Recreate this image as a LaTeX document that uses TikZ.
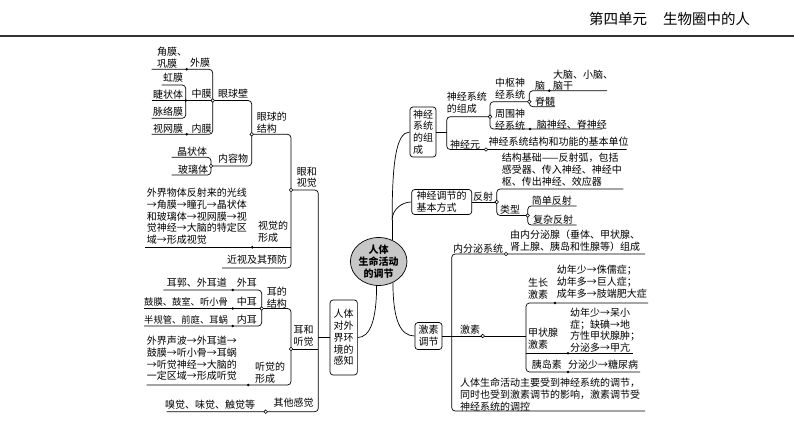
\documentclass[tikz,border=0pt]{standalone}
\usepackage{fontspec}
\setmainfont{Noto Sans CJK SC}
\usetikzlibrary{shapes.geometric}
\begin{document}
\begin{tikzpicture}[x=1pt,y=-1pt,
  ln/.style={line width=0.7pt},
  br/.style={line width=0.7pt, rounded corners=3.5pt},
  tx/.style={inner sep=0pt, anchor=north west, align=left, font=\fontsize{10}{11.7}\selectfont},
  jc/.style={circle, draw, fill=white, line width=0.6pt, inner sep=0pt, minimum size=3.6pt},
  jd/.style={circle, fill=black, inner sep=0pt, minimum size=2.8pt},
  bx/.style={draw, line width=0.7pt, rounded corners=3pt, inner sep=0pt, align=left, font=\fontsize{10}{11.7}\selectfont}
]
\useasboundingbox (0,0) rectangle (794,447);
% header
\node[inner sep=0pt, anchor=north west, font=\fontsize{14.5}{16}\selectfont] (hd) at (589,12) {第四单元\hspace{16pt}生物圈中的人};
\draw[line width=1.5pt, black!80] (0,36) -- (794,36);

% central and boxes
\node[draw, ellipse, fill=black!22, line width=0.7pt, inner sep=0pt, minimum width=53pt, minimum height=48pt, align=center, font=\bfseries\fontsize{10}{12}\selectfont] (c) at (378.7,261.5) {人体\\生命活动\\的调节};
\node[bx, minimum width=26pt, minimum height=50pt] (n1) at (423,132) {神经\\系统\\的组\\成};
\node[bx, minimum width=60pt, minimum height=25pt] (n2) at (441.7,202) {神经调节的\\基本方式};
\node[bx, minimum width=27pt, minimum height=27pt] (hx) at (428.5,336) {激素\\调节};
\node[bx, minimum width=27.3pt, minimum height=75pt] (hz) at (343.7,337.5) {人体\\对外\\界环\\境的\\感知};

% connectors from centre
\draw[ln] (c.58) -- ++(0,-20) coordinate (cu);
\draw[ln] (cu) .. controls +(0,-55) and +(-14,0) .. (n1.west);
\draw[ln] (cu) .. controls +(0,-10) and +(-10,0) .. (n2.west);
\draw[ln] (c.-56) .. controls +(0,38) and +(-14,0) .. (hx.west);
\draw[ln] (c.-95) .. controls +(0,35) and +(12,0) .. (hz.east);

% right: nervous system
\draw[ln] (n1.east) -- (446.7,132);
\draw[br] (490,116.7) -- (446.7,116.7) -- (446.7,149.5) -- (626.7,149.5);
\draw[br] (529.3,101.7) -- (490,101.7) -- (490,129) -- (602,129);
\draw[br] (607,90.7) -- (529.3,90.7) -- (529.3,106.7) -- (555,106.7);
\draw[ln] (n2.east) -- (496.7,202);
\draw[br] (623.3,189) -- (496.7,189) -- (496.7,215.5) -- (527.7,215.5);
\draw[br] (576.7,206) -- (527.7,206) -- (527.7,225) -- (576.7,225);
% right: hormones
\draw[br] (645,254) -- (451.7,254) -- (451.7,411) -- (645,411);
\draw[ln] (hx.east) -- (526,336);
\draw[br] (648,303) -- (526,303) -- (526,372) -- (640,372);
\draw[ln] (526,353.3) -- (633,353.3);

% left: senses
\draw[ln] (hz.west) -- (318.3,337.5);
\draw[br] (291,190) -- (318.3,190) -- (318.3,411.7) -- (166.7,411.7);
\draw[ln] (291,349) -- (318.3,349);
\draw[br] (251.7,134.3) -- (291,134.3) -- (291,268) -- (222,268);
\draw[ln] (145,247.3) -- (291,247.3);
\draw[br] (212.7,100.5) -- (251.7,100.5) -- (251.7,166) -- (211,166);
\draw[br] (151.7,69.3) -- (212.7,69.3) -- (212.7,134.3) -- (151.7,134.3);
\draw[ln] (151.7,100.5) -- (212.7,100.5);
\draw[br] (161.7,85) -- (185.7,85) -- (185.7,118.3) -- (151.7,118.3);
\draw[br] (171.7,157.3) -- (211,157.3) -- (211,175) -- (171.7,175);
\draw[br] (163.3,290) -- (261.7,290) -- (261.7,326) -- (144,326);
\draw[ln] (144,308.5) -- (261.7,308.5);
\draw[br] (261.7,308.5) -- (291,308.5) -- (291,385) -- (146.7,385);

% junction circles
\foreach \p [count=\i] in {(291,190),(291,349),(265.7,411.7),(251.7,134.3),(212.7,100.5),(211,166),(261.7,308.5),(490,116.7),(486,149.5),(529.3,101.7),(496.7,202),(527.7,215.5),(506,254),(482.7,336)}
  \node[jc] (o\i) at \p {};
\foreach \p [count=\i] in {(186.7,69.3),(185.7,100.5),(186.7,134.3),(252.3,247.3),(232.7,290),(232.7,308.5),(232.7,326),(248.3,385),(549.3,90.7),(530,129),(555,303),(568,353.3),(568,372)}
  \node[jd] (d\i) at \p {};

% left texts
\node[tx] (a1) at (157,47) {角膜、\\巩膜};
\node[tx] (a2) at (190,58) {外膜};
\node[tx] (a3) at (163,73) {虹膜};
\node[tx] (a4) at (153,90) {睫状体};
\node[tx] (a5) at (191.5,89) {中膜};
\node[tx] (a6) at (153,107) {脉络膜};
\node[tx] (a7) at (153,124) {视网膜};
\node[tx] (a8) at (191.5,124) {内膜};
\node[tx] (a9) at (218,89) {眼球壁};
\node[tx] (a10) at (256.7,111.7) {眼球的\\结构};
\node[tx] (a11) at (177,146.5) {晶状体};
\node[tx] (a12) at (178,164.5) {玻璃体};
\node[tx] (a13) at (218,154) {内容物};
\node[tx] (a14) at (146.7,188) {外界物体反射来的光线\\→角膜→瞳孔→晶状体\\和玻璃体→视网膜→视\\觉神经→大脑的特定区\\域→形成视觉};
\node[tx, font=\fontsize{10}{12}\selectfont] (a15) at (258,221) {视觉的\\形成};
\node[tx] (a16) at (227,255) {近视及其预防};
\node[tx] (a17) at (296.7,166.7) {眼和\\视觉};
\node[tx] (b1) at (166.7,278) {耳郭、外耳道};
\node[tx] (b2) at (236.7,278) {外耳};
\node[tx, font=\fontsize{9.3}{11}\selectfont] (b3) at (144,297) {鼓膜、鼓室、听小骨};
\node[tx] (b4) at (236.7,296.7) {中耳};
\node[tx, font=\fontsize{9.3}{11}\selectfont] (b5) at (144,315.3) {半规管、前庭、耳蜗};
\node[tx] (b6) at (236.7,315) {内耳};
\node[tx] (b7) at (266.7,286.7) {耳的\\结构};
\node[tx] (b8) at (146.7,336) {外界声波→外耳道→\\鼓膜→听小骨→耳蜗\\→听觉神经→大脑的\\一定区域→形成听觉};
\node[tx] (b9) at (255,362) {听觉的\\形成};
\node[tx] (b10) at (293.3,325) {耳和\\听觉};
\node[tx] (b11) at (165,400) {嗅觉、味觉、触觉等};
\node[tx] (b12) at (273.3,398) {其他感觉};

% right texts
\node[tx] (r1) at (446.7,91.7) {神经系统\\的组成};
\node[tx] (r2) at (495,78) {中枢神\\经系统};
\node[tx] (r3) at (535,81) {脑};
\node[tx] (r4) at (553,69.5) {大脑、小脑、\\脑干};
\node[tx] (r5) at (535,96.5) {脊髓};
\node[tx] (r6) at (495,109) {周围神\\经系统};
\node[tx] (r7) at (536.7,119.5) {脑神经、脊神经};
\node[tx] (r8) at (450,139.5) {神经元};
\node[tx] (r9) at (488.3,137) {神经系统结构和功能的基本单位};
\node[tx, font=\fontsize{10}{11.8}\selectfont] (r10) at (501.7,153) {结构基础——反射弧，包括\\感受器、传入神经、神经中\\枢、传出神经、效应器};
\node[tx] (r11) at (473,191.5) {反射};
\node[tx] (r12) at (500,205) {类型};
\node[tx] (r13) at (531.7,196) {简单反射};
\node[tx] (r14) at (533,215) {复杂反射};
\node[tx] (r15) at (453,244) {内分泌系统};
\node[tx] (r16) at (510,230) {由内分泌腺（垂体、甲状腺、\\肾上腺、胰岛和性腺等）组成};
\node[tx] (r17) at (460,325) {激素};
\node[tx] (r18) at (528,278) {生长\\激素};
\node[tx, font=\fontsize{10}{12}\selectfont] (r19) at (556.7,265) {幼年少→侏儒症；\\幼年多→巨人症；\\成年多→肢端肥大症};
\node[tx] (r20) at (528,328) {甲状腺\\激素};
\node[tx, font=\fontsize{10}{11.5}\selectfont] (r21) at (570,308) {幼年少→呆小\\症；缺碘→地\\方性甲状腺肿；\\分泌多→甲亢};
\node[tx] (r22) at (531.7,360) {胰岛素};
\node[tx] (r23) at (568,360) {分泌少→糖尿病};
\node[tx, font=\fontsize{10}{11.8}\selectfont] (r24) at (460,378) {人体生命活动主要受到神经系统的调节，\\同时也受到激素调节的影响，激素调节受\\神经系统的调控};
\end{tikzpicture}
\end{document}
